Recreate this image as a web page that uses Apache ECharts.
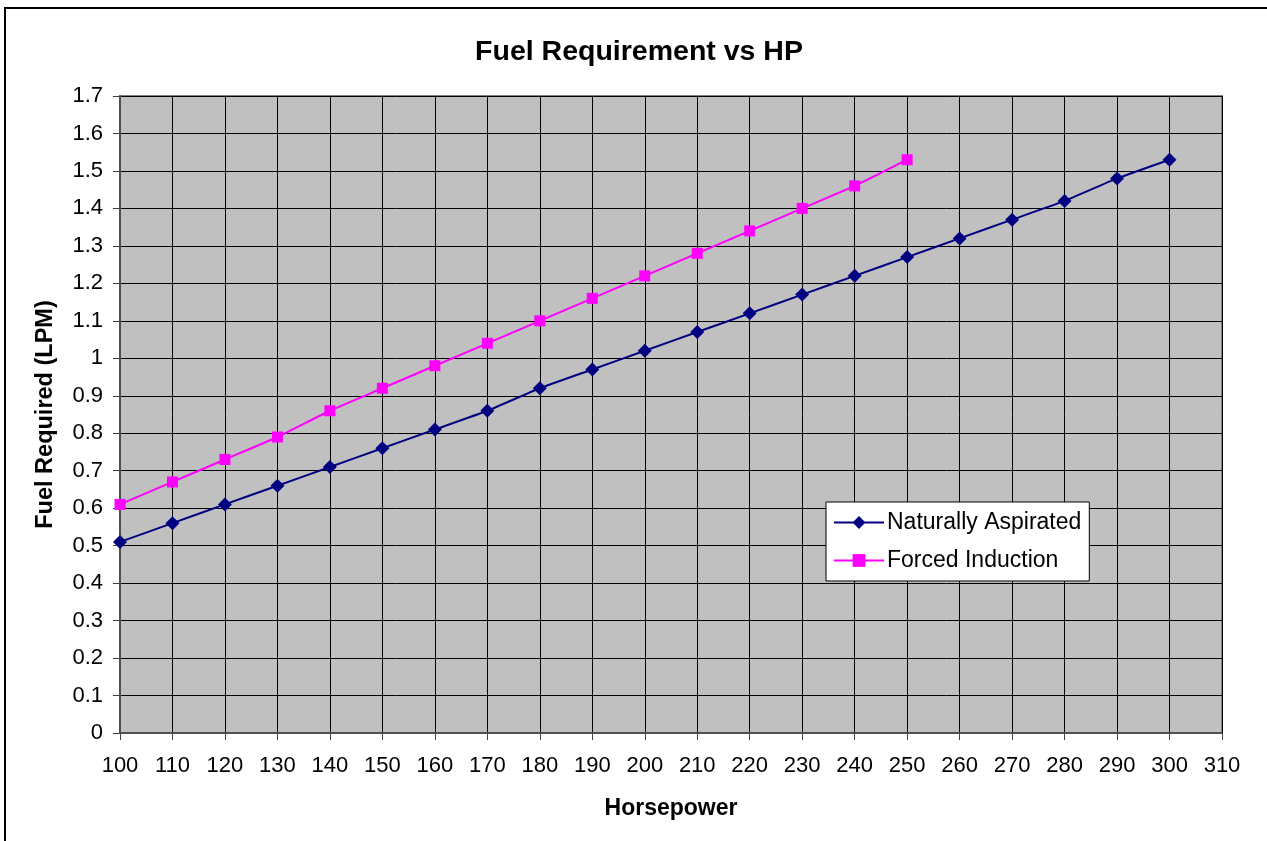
<!DOCTYPE html>
<html>
<head>
<meta charset="utf-8">
<script src="https://cdn.jsdelivr.net/npm/echarts@6/dist/echarts.min.js"></script>
<style>
  html, body { margin: 0; padding: 0; background: #fff; }
  #chart { width: 1267px; height: 841px; }
</style>
</head>
<body>
<div id="chart"></div>
<script>
const horsepower = [100, 110, 120, 130, 140, 150, 160, 170, 180, 190, 200, 210, 220, 230, 240, 250, 260, 270, 280, 290, 300];
const naturallyAspirated = [0.51, 0.56, 0.61, 0.66, 0.71, 0.76, 0.81, 0.86, 0.92, 0.97, 1.02, 1.07, 1.12, 1.17, 1.22, 1.27, 1.32, 1.37, 1.42, 1.48, 1.53];
const forcedInduction = [0.61, 0.67, 0.73, 0.79, 0.86, 0.92, 0.98, 1.04, 1.10, 1.16, 1.22, 1.28, 1.34, 1.40, 1.46, 1.53];
const seriesNames = ['Naturally Aspirated', 'Forced Induction'];

const FONT = '"Liberation Sans", Arial, sans-serif';
const chart = echarts.init(document.getElementById('chart'), null, { renderer: 'canvas' });

const pairs = (xs, ys) => ys.map((y, i) => [xs[i], y]);

chart.setOption({
  animation: false,
  backgroundColor: '#ffffff',
  title: {
    text: 'Fuel Requirement vs HP',
    left: 634, top: 33, textAlign: 'center',
    textStyle: { fontFamily: FONT, fontSize: 28.5, fontWeight: 'bold', color: '#000' }
  },
  graphic: [{
    type: 'rect', z: 100, silent: true,
    shape: { x: 5, y: 8, width: 1300, height: 900 },
    style: { fill: 'none', stroke: '#000', lineWidth: 2 }
  }],
  grid: {
    left: 120, right: 45, top: 96, bottom: 108,
    show: true, backgroundColor: '#c0c0c0', borderColor: '#808080', borderWidth: 2
  },
  legend: {
    orient: 'vertical',
    left: 826, top: 502,
    padding: [9, 8, 9, 7],
    itemGap: 15,
    itemWidth: 50, itemHeight: 16,
    backgroundColor: '#ffffff',
    borderColor: '#000', borderWidth: 1,
    textStyle: { fontFamily: FONT, fontSize: 23, color: '#000', padding: [0, 0, 0, -2] },
    data: seriesNames
  },
  xAxis: {
    type: 'value', min: 100, max: 310, interval: 10,
    name: 'Horsepower', nameLocation: 'middle', nameGap: 64,
    nameTextStyle: { fontFamily: FONT, fontSize: 23, fontWeight: 'bold', color: '#000' },
    axisLine: { show: true, onZero: false, lineStyle: { color: '#505050', width: 2 } },
    axisTick: { show: true, length: 7, lineStyle: { color: '#404040', width: 1 } },
    axisLabel: { fontFamily: FONT, fontSize: 22, color: '#000', margin: 22 },
    splitLine: { show: true, lineStyle: { color: '#000', width: 1 } }
  },
  yAxis: {
    type: 'value', min: 0, max: 1.7, interval: 0.1,
    name: 'Fuel Required (LPM)', nameLocation: 'middle', nameGap: 62, nameRotate: 90,
    nameTextStyle: { fontFamily: FONT, fontSize: 23.5, fontWeight: 'bold', color: '#000' },
    axisLine: { show: true, lineStyle: { color: '#505050', width: 2 } },
    axisTick: { show: true, length: 7, lineStyle: { color: '#404040', width: 1 } },
    axisLabel: { fontFamily: FONT, fontSize: 22, color: '#000', margin: 17,
      formatter: v => String(+v.toFixed(1)) },
    splitLine: { show: true, lineStyle: { color: '#000', width: 1 } }
  },
  series: [
    {
      name: seriesNames[0], type: 'line', smooth: 0.15,
      data: pairs(horsepower, naturallyAspirated),
      symbol: 'diamond', symbolSize: 14,
      itemStyle: { color: '#000080' },
      lineStyle: { color: '#000080', width: 2 }
    },
    {
      name: seriesNames[1], type: 'line', smooth: 0.15,
      data: pairs(horsepower, forcedInduction),
      symbol: 'rect', symbolSize: 11,
      itemStyle: { color: '#ff00ff' },
      lineStyle: { color: '#ff00ff', width: 2 }
    }
  ]
});
</script>
</body>
</html>
